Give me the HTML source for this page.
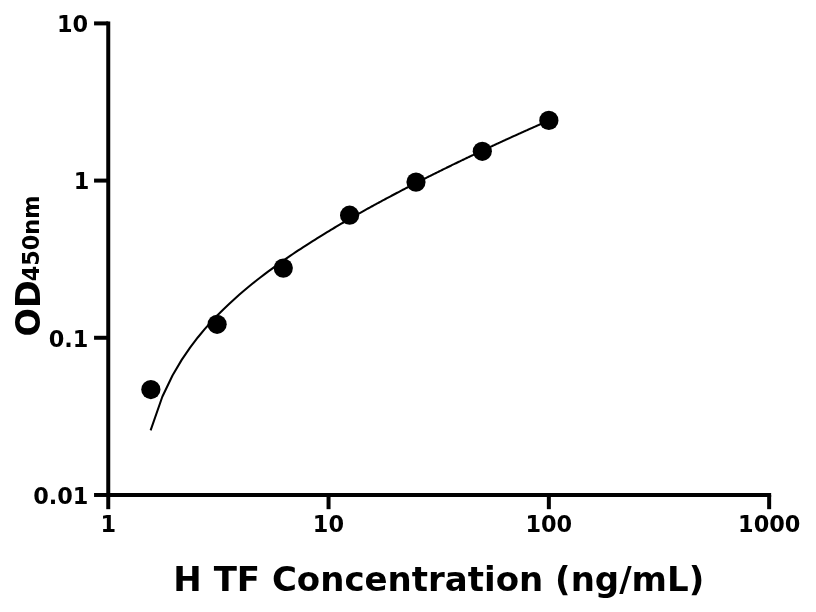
<!DOCTYPE html>
<html lang="en"><head><meta charset="utf-8"><title>H TF Concentration standard curve</title>
<style>html,body{margin:0;padding:0;background:#fff;overflow:hidden}svg{display:block}</style></head>
<body>
<svg width="816" height="612" viewBox="0 0 816 612">
<rect width="816" height="612" fill="#fff"/>
<g stroke="#000" stroke-width="4" fill="none" stroke-linecap="butt">
<path d="M108.25 21.40V496.97"/>
<path d="M106.25 494.97H771.15"/>
<path d="M108.25 494.97V509.17"/>
<path d="M328.55 494.97V509.17"/>
<path d="M548.85 494.97V509.17"/>
<path d="M769.15 494.97V509.17"/>
<path d="M108.25 23.40H94.05"/>
<path d="M108.25 180.59H94.05"/>
<path d="M108.25 337.78H94.05"/>
<path d="M108.25 494.97H94.05"/>
</g>
<path d="M150.95 429.45 L162.32 396.74 L172.49 375.51 L181.68 359.89 L190.06 347.59 L197.77 337.48 L204.90 328.92 L211.54 321.52 L217.74 315.00 L223.57 309.18 L229.07 303.94 L234.26 299.18 L239.19 294.81 L243.87 290.79 L248.34 287.05 L252.61 283.57 L256.70 280.32 L260.61 277.26 L264.38 274.38 L268.00 271.65 L271.49 269.07 L274.86 266.62 L278.11 264.28 L281.25 262.05 L284.30 259.91 L287.25 257.87 L290.11 255.91 L292.89 254.02 L295.59 252.21 L298.22 250.46 L300.78 248.78 L303.27 247.15 L305.70 245.58 L308.06 244.05 L310.37 242.58 L312.63 241.14 L314.83 239.76 L316.99 238.41 L319.09 237.09 L321.15 235.82 L323.17 234.58 L325.15 233.37 L327.08 232.19 L328.98 231.04 L330.84 229.92 L332.67 228.82 L334.46 227.75 L336.22 226.71 L337.94 225.69 L339.64 224.69 L341.30 223.71 L342.94 222.75 L344.55 221.81 L346.14 220.89 L347.69 219.99 L349.23 219.11 L350.73 218.24 L352.22 217.39 L353.68 216.56 L355.12 215.74 L356.54 214.93 L357.94 214.14 L359.32 213.36 L360.68 212.60 L362.02 211.85 L363.34 211.11 L364.64 210.38 L365.93 209.67 L367.19 208.96 L368.45 208.27 L369.68 207.59 L370.90 206.92 L372.11 206.25 L373.30 205.60 L374.47 204.96 L375.63 204.33 L376.78 203.70 L377.91 203.08 L379.03 202.48 L380.14 201.88 L381.23 201.29 L382.32 200.70 L383.39 200.13 L384.45 199.56 L385.49 199.00 L386.53 198.44 L387.55 197.89 L388.56 197.35 L389.57 196.82 L390.56 196.29 L391.54 195.77 L392.51 195.26 L393.48 194.75 L394.43 194.24 L395.37 193.75 L396.31 193.25 L397.23 192.77 L398.15 192.29 L399.05 191.81 L399.95 191.34 L400.84 190.87 L401.73 190.41 L402.60 189.96 L403.47 189.51 L404.33 189.06 L405.18 188.62 L406.02 188.18 L406.86 187.75 L407.69 187.32 L408.51 186.90 L409.32 186.48 L410.13 186.06 L410.93 185.65 L411.73 185.24 L412.51 184.83 L413.30 184.43 L414.07 184.04 L414.84 183.64 L415.60 183.25 L416.36 182.87 L417.11 182.48 L417.86 182.10 L418.60 181.73 L419.33 181.35 L420.06 180.98 L420.78 180.62 L421.50 180.26 L422.21 179.89 L422.91 179.54 L423.62 179.18 L424.31 178.83 L425.00 178.48 L425.69 178.14 L426.37 177.79 L427.05 177.45 L427.72 177.12 L428.39 176.78 L429.05 176.45 L429.71 176.12 L430.36 175.79 L431.01 175.47 L431.65 175.15 L432.29 174.83 L432.93 174.51 L433.56 174.20 L434.19 173.88 L434.81 173.57 L435.43 173.26 L436.05 172.96 L436.66 172.66 L437.27 172.35 L437.87 172.05 L438.47 171.76 L439.07 171.46 L439.66 171.17 L440.25 170.88 L440.84 170.59 L441.42 170.30 L442.00 170.02 L442.57 169.73 L443.14 169.45 L443.71 169.17 L444.27 168.90 L444.84 168.62 L445.39 168.35 L445.95 168.08 L446.50 167.80 L447.05 167.54 L447.60 167.27 L448.14 167.00 L448.68 166.74 L449.21 166.48 L449.75 166.22 L450.28 165.96 L450.80 165.70 L451.33 165.45 L451.85 165.19 L452.37 164.94 L452.88 164.69 L453.40 164.44 L453.91 164.19 L454.42 163.95 L454.92 163.70 L455.42 163.46 L455.92 163.22 L456.42 162.98 L456.92 162.74 L457.41 162.50 L457.90 162.26 L458.38 162.03 L458.87 161.79 L459.35 161.56 L459.83 161.33 L460.31 161.10 L460.78 160.87 L461.26 160.64 L461.73 160.42 L462.19 160.19 L462.66 159.97 L463.12 159.75 L463.58 159.53 L464.04 159.31 L464.50 159.09 L464.96 158.87 L465.41 158.65 L465.86 158.44 L466.31 158.22 L466.75 158.01 L467.20 157.80 L467.64 157.59 L468.08 157.38 L468.52 157.17 L468.95 156.96 L469.39 156.75 L469.82 156.55 L470.25 156.34 L470.68 156.14 L471.10 155.94 L471.53 155.73 L471.95 155.53 L472.37 155.33 L472.79 155.13 L473.21 154.94 L473.62 154.74 L474.04 154.54 L474.45 154.35 L474.86 154.15 L475.27 153.96 L475.67 153.77 L476.08 153.58 L476.48 153.39 L476.88 153.20 L477.28 153.01 L477.68 152.82 L478.07 152.63 L478.47 152.45 L478.86 152.26 L479.25 152.08 L479.64 151.90 L480.03 151.71 L480.42 151.53 L480.80 151.35 L481.19 151.17 L481.57 150.99 L481.95 150.81 L482.33 150.63 L482.71 150.46 L483.08 150.28 L483.46 150.10 L483.83 149.93 L484.20 149.76 L484.57 149.58 L484.94 149.41 L485.31 149.24 L485.67 149.07 L486.04 148.90 L486.40 148.73 L486.76 148.56 L487.12 148.39 L487.48 148.22 L487.84 148.05 L488.20 147.89 L488.55 147.72 L488.91 147.56 L489.26 147.39 L489.61 147.23 L489.96 147.07 L490.31 146.91 L490.66 146.74 L491.00 146.58 L491.35 146.42 L491.69 146.26 L492.03 146.10 L492.37 145.95 L492.71 145.79 L493.05 145.63 L493.39 145.47 L493.73 145.32 L494.06 145.16 L494.40 145.01 L494.73 144.85 L495.06 144.70 L495.39 144.55 L495.72 144.40 L496.05 144.24 L496.38 144.09 L496.70 143.94 L497.03 143.79 L497.35 143.64 L497.67 143.49 L498.00 143.34 L498.32 143.20 L498.64 143.05 L498.95 142.90 L499.27 142.76 L499.59 142.61 L499.90 142.47 L500.22 142.32 L500.53 142.18 L500.84 142.03 L501.15 141.89 L501.47 141.75 L501.77 141.61 L502.08 141.46 L502.39 141.32 L502.70 141.18 L503.00 141.04 L503.31 140.90 L503.61 140.76 L503.91 140.63 L504.21 140.49 L504.51 140.35 L504.81 140.21 L505.11 140.08 L505.41 139.94 L505.71 139.80 L506.00 139.67 L506.30 139.53 L506.59 139.40 L506.88 139.27 L507.18 139.13 L507.47 139.00 L507.76 138.87 L508.05 138.73 L508.34 138.60 L508.62 138.47 L508.91 138.34 L509.20 138.21 L509.48 138.08 L509.77 137.95 L510.05 137.82 L510.33 137.69 L510.61 137.56 L510.90 137.44 L511.18 137.31 L511.45 137.18 L511.73 137.06 L512.01 136.93 L512.29 136.80 L512.56 136.68 L512.84 136.55 L513.11 136.43 L513.39 136.30 L513.66 136.18 L513.93 136.06 L514.20 135.93 L514.48 135.81 L514.75 135.69 L515.01 135.57 L515.28 135.45 L515.55 135.32 L515.82 135.20 L516.08 135.08 L516.35 134.96 L516.61 134.84 L516.88 134.72 L517.14 134.61 L517.40 134.49 L517.67 134.37 L517.93 134.25 L518.19 134.13 L518.45 134.02 L518.71 133.90 L518.96 133.78 L519.22 133.67 L519.48 133.55 L519.74 133.44 L519.99 133.32 L520.25 133.21 L520.50 133.09 L520.75 132.98 L521.01 132.86 L521.26 132.75 L521.51 132.64 L521.76 132.52 L522.01 132.41 L522.26 132.30 L522.51 132.19 L522.76 132.08 L523.00 131.96 L523.25 131.85 L523.50 131.74 L523.74 131.63 L523.99 131.52 L524.23 131.41 L524.48 131.30 L524.72 131.20 L524.96 131.09 L525.20 130.98 L525.45 130.87 L525.69 130.76 L525.93 130.65 L526.17 130.55 L526.41 130.44 L526.64 130.33 L526.88 130.23 L527.12 130.12 L527.36 130.02 L527.59 129.91 L527.83 129.81 L528.06 129.70 L528.30 129.60 L528.53 129.49 L528.76 129.39 L529.00 129.28 L529.23 129.18 L529.46 129.08 L529.69 128.97 L529.92 128.87 L530.15 128.77 L530.38 128.67 L530.61 128.56 L530.84 128.46 L531.06 128.36 L531.29 128.26 L531.52 128.16 L531.74 128.06 L531.97 127.96 L532.19 127.86 L532.42 127.76 L532.64 127.66 L532.86 127.56 L533.09 127.46 L533.31 127.36 L533.53 127.26 L533.75 127.17 L533.97 127.07 L534.19 126.97 L534.41 126.87 L534.63 126.78 L534.85 126.68 L535.07 126.58 L535.29 126.49 L535.50 126.39 L535.72 126.29 L535.94 126.20 L536.15 126.10 L536.37 126.01 L536.58 125.91 L536.80 125.82 L537.01 125.72 L537.22 125.63 L537.44 125.53 L537.65 125.44 L537.86 125.35 L538.07 125.25 L538.28 125.16 L538.49 125.07 L538.71 124.97 L538.91 124.88 L539.12 124.79 L539.33 124.70 L539.54 124.60 L539.75 124.51 L539.96 124.42 L540.16 124.33 L540.37 124.24 L540.58 124.15 L540.78 124.06 L540.99 123.97 L541.19 123.88 L541.39 123.79 L541.60 123.70 L541.80 123.61 L542.01 123.52 L542.21 123.43 L542.41 123.34 L542.61 123.25 L542.81 123.16 L543.01 123.07 L543.21 122.99 L543.41 122.90 L543.61 122.81 L543.81 122.72 L544.01 122.64 L544.21 122.55 L544.41 122.46 L544.60 122.38 L544.80 122.29 L545.00 122.20 L545.20 122.12 L545.39 122.03 L545.59 121.95 L545.78 121.86 L545.98 121.77 L546.17 121.69 L546.36 121.60 L546.56 121.52 L546.75 121.44 L546.94 121.35 L547.14 121.27 L547.33 121.18 L547.52 121.10 L547.71 121.01 L547.90 120.93 L548.09 120.85 L548.28 120.77 L548.47 120.68 L548.66 120.60 L548.85 120.52" stroke="#000" stroke-width="2.05" fill="none" stroke-linejoin="round" stroke-linecap="square"/>
<circle cx="150.85" cy="389.55" r="9.6" fill="#000"/>
<circle cx="217.1" cy="324.3" r="9.6" fill="#000"/>
<circle cx="283.3" cy="268.1" r="9.6" fill="#000"/>
<circle cx="349.6" cy="215.2" r="9.6" fill="#000"/>
<circle cx="416.0" cy="182.1" r="9.6" fill="#000"/>
<circle cx="482.3" cy="151.3" r="9.6" fill="#000"/>
<circle cx="548.85" cy="120.4" r="9.6" fill="#000"/>
<g font-family="'DejaVu Sans', 'Liberation Sans', sans-serif" font-weight="bold" fill="#000">
<text x="88.20" y="32.00" font-size="22.4" text-anchor="end">10</text>
<text x="89.30" y="189.49" font-size="22.4" text-anchor="end">1</text>
<text x="88.30" y="346.88" font-size="22.4" text-anchor="end">0.1</text>
<text x="88.40" y="503.77" font-size="22.4" text-anchor="end">0.01</text>
<text x="108.35" y="531.7" font-size="22.4" text-anchor="middle">1</text>
<text x="328.45" y="531.7" font-size="22.4" text-anchor="middle">10</text>
<text x="548.75" y="531.7" font-size="22.4" text-anchor="middle">100</text>
<text x="769.25" y="531.7" font-size="22.4" text-anchor="middle">1000</text>
<text x="438.8" y="590.5" font-size="34" text-anchor="middle">H TF Concentration (ng/mL)</text>
<text transform="translate(39.7 336.6) rotate(-90) scale(1 1.015)" font-size="33.5">OD</text>
<text transform="translate(39.1 281.3) rotate(-90)" font-size="22.35">450nm</text>
</g></svg>
</body></html>
